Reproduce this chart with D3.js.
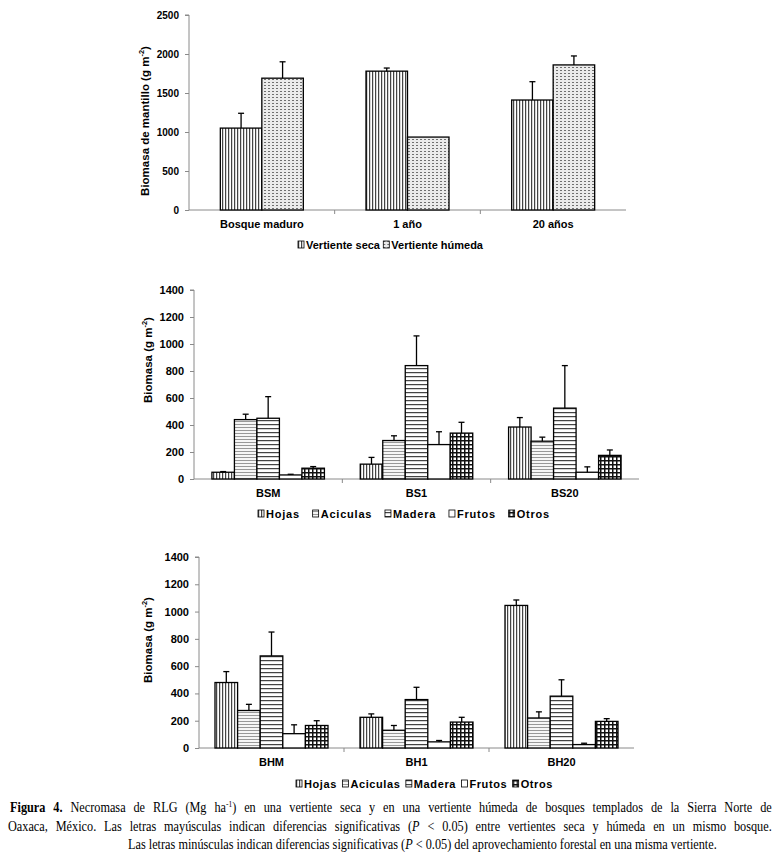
<!DOCTYPE html>
<html><head><meta charset="utf-8">
<script src="https://cdn.jsdelivr.net/npm/d3@7"></script>
<style>body{margin:0;background:#fff}svg{display:block}</style>
</head><body>
<svg id="c" width="779" height="855"></svg>
<script>
// ---- data ----
const topCats = ["Bosque maduro", "1 año", "20 años"];
const topSeries = ["Vertiente seca", "Vertiente húmeda"];
const secaVals = [1050, 1780, 1410];
const secaErr = [190, 40, 235];
const humedaVals = [1690, 935, 1860];
const humedaErr = [210, 0, 115];
const topTicks = [0, 500, 1000, 1500, 2000, 2500];

const compSeries = ["Hojas", "Aciculas", "Madera", "Frutos", "Otros"];
const bsCats = ["BSM", "BS1", "BS20"];
const hojasBS = [50, 110, 385];   const hojasBSErr = [5, 50, 70];
const acicBS = [440, 285, 280];   const acicBSErr = [40, 35, 30];
const maderaBS = [450, 840, 525]; const maderaBSErr = [160, 220, 315];
const frutosBS = [30, 255, 50];   const frutosBSErr = [5, 95, 40];
const otrosBS = [80, 340, 175];   const otrosBSErr = [12, 80, 40];

const bhCats = ["BHM", "BH1", "BH20"];
const hojasBH = [480, 225, 1045]; const hojasBHErr = [80, 25, 40];
const acicBH = [275, 130, 220];   const acicBHErr = [45, 35, 45];
const maderaBH = [675, 355, 380]; const maderaBHErr = [175, 90, 120];
const frutosBH = [105, 45, 25];   const frutosBHErr = [65, 10, 10];
const otrosBH = [165, 190, 195];  const otrosBHErr = [35, 35, 20];
const compTicks = [0, 200, 400, 600, 800, 1000, 1200, 1400];

const svg = d3.select("#c");
const SANS = "'Liberation Sans', Arial, sans-serif";
const AXIS = "#8a8a8a";

// ---- patterns ----
const defs = svg.append("defs");
function pat(id, w, h, build) {
  const p = defs.append("pattern").attr("id", id).attr("patternUnits", "userSpaceOnUse")
    .attr("width", w).attr("height", h);
  build(p);
}
pat("vert", 3, 3, p => {
  p.append("rect").attr("width", 3).attr("height", 3).attr("fill", "#fff");
  p.append("rect").attr("x", 0).attr("width", 1).attr("height", 3).attr("fill", "#444");
  p.append("rect").attr("x", 1).attr("width", 0.7).attr("height", 3).attr("fill", "#c4c4c4");
});
pat("dash", 4, 3, p => {
  p.append("rect").attr("width", 4).attr("height", 3).attr("fill", "#ebebeb");
  p.append("rect").attr("x", 0).attr("y", 1).attr("width", 2).attr("height", 1).attr("fill", "#707070");
});
pat("wave", 4, 3, p => {
  p.append("rect").attr("width", 4).attr("height", 3).attr("fill", "#f6f6f6");
  p.append("path").attr("d", "M0,2 L1,1 L2,2 L3,1 L4,2").attr("stroke", "#808080").attr("stroke-width", 0.8).attr("fill", "none");
});
pat("horiz", 4, 4, p => {
  p.append("rect").attr("width", 4).attr("height", 4).attr("fill", "#fff");
  p.append("rect").attr("y", 0).attr("width", 4).attr("height", 1).attr("fill", "#444");
  p.append("rect").attr("y", 1).attr("width", 4).attr("height", 0.7).attr("fill", "#c4c4c4");
});
pat("plain", 4, 4, p => {
  p.append("rect").attr("width", 4).attr("height", 4).attr("fill", "#fff");
});
pat("check", 4, 4, p => {
  p.append("rect").attr("width", 4).attr("height", 4).attr("fill", "#fff");
  p.append("rect").attr("y", 0).attr("width", 4).attr("height", 1.5).attr("fill", "#111");
  p.append("rect").attr("x", 0).attr("width", 1.5).attr("height", 4).attr("fill", "#111");
});

// ---- generic chart ----
function drawChart(o) {
  const g = svg.append("g");
  const x = d3.scaleBand().domain(o.cats).range([o.x0, o.x1]).padding(0);
  const y = d3.scaleLinear().domain([0, o.ticks[o.ticks.length - 1]]).range([o.y0, o.yTop]);
  const bw = x.bandwidth();
  const inner = d3.scaleBand().domain(o.series.map(s => s.name))
    .range([(bw - o.groupW) / 2, (bw + o.groupW) / 2]).padding(0);

  // y axis
  const ya = d3.axisLeft(y).tickValues(o.ticks).tickSize(4).tickPadding(6).tickFormat(d3.format("d"));
  const yg = g.append("g").attr("transform", `translate(${o.x0},0)`).call(ya);
  yg.select(".domain").attr("stroke", AXIS).attr("d", `M-4,${o.yTop}H0V${o.y0}`);
  yg.selectAll(".tick line").attr("stroke", AXIS);
  yg.selectAll("text").attr("font-family", SANS).attr("font-weight", "bold").attr("font-size", o.tickSize).attr("fill", "#000");

  // x axis
  const xa = d3.axisBottom(x).tickSize(0).tickPadding(10);
  const xg = g.append("g").attr("transform", `translate(0,${o.y0})`).call(xa);
  xg.select(".domain").attr("stroke", AXIS).attr("d", `M${o.x0},0H${o.x1}`);
  xg.selectAll("text").attr("font-family", SANS).attr("font-weight", "bold").attr("font-size", 11).attr("fill", "#000");
  g.selectAll(".bnd").data(o.cats.slice(1)).join("line")
    .attr("x1", d => x(d)).attr("x2", d => x(d))
    .attr("y1", o.y0).attr("y2", o.y0 + 4).attr("stroke", AXIS);

  // bars
  o.series.forEach(s => {
    const sg = g.append("g");
    o.cats.forEach((c, i) => {
      const bx = x(c) + inner(s.name);
      const v = s.vals[i];
      sg.append("rect").attr("x", bx).attr("y", y(v)).attr("width", inner.bandwidth())
        .attr("height", o.y0 - y(v)).attr("fill", `url(#${s.pat})`)
        .attr("stroke", "#000").attr("stroke-width", 1.3);
      const e = s.err[i];
      if (e > 0) {
        const cx = bx + inner.bandwidth() / 2;
        sg.append("line").attr("x1", cx).attr("x2", cx).attr("y1", y(v)).attr("y2", y(v + e))
          .attr("stroke", "#000").attr("stroke-width", 1.3);
        sg.append("line").attr("x1", cx - 3).attr("x2", cx + 3).attr("y1", y(v + e)).attr("y2", y(v + e))
          .attr("stroke", "#000").attr("stroke-width", 1.3);
      }
    });
  });

  // y title
  const t = g.append("text").attr("transform", `translate(${o.titleX},${o.titleY}) rotate(-90)`)
    .attr("text-anchor", "middle").attr("font-family", SANS).attr("font-weight", "bold")
    .attr("font-size", o.titleSize).attr("fill", "#000");
  t.append("tspan").text(o.title);
  t.append("tspan").attr("font-size", o.titleSize * 0.65).attr("dy", -5).text("-2");
  t.append("tspan").attr("dy", 5).text(")");

  // legend: evenly spread between legStart and legEnd
  const BOX = 6, GAPT = 2;
  const items = o.series.map(s => {
    const ig = g.append("g");
    ig.append("rect").attr("x", 0).attr("y", o.legY - 8).attr("width", BOX).attr("height", 7)
      .attr("fill", `url(#${s.pat})`).attr("stroke", "#000").attr("stroke-width", 0.8);
    const lt = ig.append("text").attr("x", BOX + GAPT).attr("y", o.legY).attr("font-family", SANS)
      .attr("font-weight", "bold").attr("font-size", 11).attr("fill", "#000")
      .attr("letter-spacing", o.legLS).text(s.name);
    return { ig, w: BOX + GAPT + lt.node().getComputedTextLength() };
  });
  const total = d3.sum(items, d => d.w);
  const gap = items.length > 1 ? (o.legEnd - o.legStart - total) / (items.length - 1) : 0;
  let cx = o.legStart;
  items.forEach(it => { it.ig.attr("transform", `translate(${cx},0)`); cx += it.w + gap; });
}

drawChart({
  cats: topCats, x0: 189, x1: 626, y0: 210, yTop: 15, ticks: topTicks, groupW: 83, tickSize: 10,
  series: [
    { name: topSeries[0], vals: secaVals, err: secaErr, pat: "vert" },
    { name: topSeries[1], vals: humedaVals, err: humedaErr, pat: "dash" }
  ],
  title: "Biomasa de mantillo (g m", titleX: 149, titleY: 121, titleSize: 11.5,
  legStart: 298, legEnd: 483, legLS: 0, legY: 249
});

drawChart({
  cats: bsCats, x0: 194, x1: 639, y0: 479, yTop: 290, ticks: compTicks, groupW: 112.5, tickSize: 11,
  series: [
    { name: compSeries[0], vals: hojasBS, err: hojasBSErr, pat: "vert" },
    { name: compSeries[1], vals: acicBS, err: acicBSErr, pat: "wave" },
    { name: compSeries[2], vals: maderaBS, err: maderaBSErr, pat: "horiz" },
    { name: compSeries[3], vals: frutosBS, err: frutosBSErr, pat: "plain" },
    { name: compSeries[4], vals: otrosBS, err: otrosBSErr, pat: "check" }
  ],
  title: "Biomasa (g m", titleX: 152, titleY: 360, titleSize: 11.5,
  legStart: 258, legEnd: 550, legLS: 0.8, legY: 518
});

drawChart({
  cats: bhCats, x0: 199, x1: 634, y0: 748, yTop: 557, ticks: compTicks, groupW: 113, tickSize: 11,
  series: [
    { name: compSeries[0], vals: hojasBH, err: hojasBHErr, pat: "vert" },
    { name: compSeries[1], vals: acicBH, err: acicBHErr, pat: "wave" },
    { name: compSeries[2], vals: maderaBH, err: maderaBHErr, pat: "horiz" },
    { name: compSeries[3], vals: frutosBH, err: frutosBHErr, pat: "plain" },
    { name: compSeries[4], vals: otrosBH, err: otrosBHErr, pat: "check" }
  ],
  title: "Biomasa (g m", titleX: 152, titleY: 640, titleSize: 11.5,
  legStart: 296, legEnd: 553, legLS: 0.6, legY: 788
});

// ---- caption (condensed serif; lines 1-2 justified, line 3 centred) ----
const SERIF = "'Liberation Serif', 'Times New Roman', serif";
const cap = svg.append("g").attr("font-family", SERIF).attr("font-size", 14).attr("fill", "#000");
function capLine(parts) {
  const gg = cap.append("g");
  const t = gg.append("text").attr("x", 0).attr("y", 0);
  parts.forEach(p => {
    const s = t.append("tspan").text(p.t);
    if (p.b) s.attr("font-weight", "bold");
    if (p.i) s.attr("font-style", "italic");
    if (p.sup) s.attr("font-size", 8.5).attr("dy", -5);
    if (p.dy) s.attr("dy", p.dy);
  });
  const str = parts.map(p => p.t).join("");
  return { g: gg, t, L: t.node().getComputedTextLength(), spaces: (str.match(/ /g) || []).length };
}
const c1 = capLine([{ t: "Figura 4.", b: 1 }, { t: " Necromasa de RLG (Mg ha" }, { t: "-1", sup: 1 },
  { t: ") en una vertiente seca y en una vertiente húmeda de bosques templados de la Sierra Norte de", dy: 5 }]);
const c2 = capLine([{ t: "Oaxaca, México. Las letras mayúsculas indican diferencias significativas (" }, { t: "P", i: 1 },
  { t: " < 0.05) entre vertientes seca y húmeda en un mismo bosque." }]);
const c3 = capLine([{ t: "Las letras minúsculas indican diferencias significativas (" }, { t: "P", i: 1 },
  { t: " < 0.05) del aprovechamiento forestal en una misma vertiente." }]);
const sx = 589 / c3.L;
function place(c, x, y, w) {
  if (w) c.t.attr("word-spacing", ((w / sx - c.L) / c.spaces).toFixed(3));
  c.g.attr("transform", `translate(${x},${y}) scale(${sx.toFixed(4)},1)`);
}
place(c1, 10, 812, 762);
place(c2, 8, 831, 764);
place(c3, 128, 849, 0);
</script>
</body></html>
